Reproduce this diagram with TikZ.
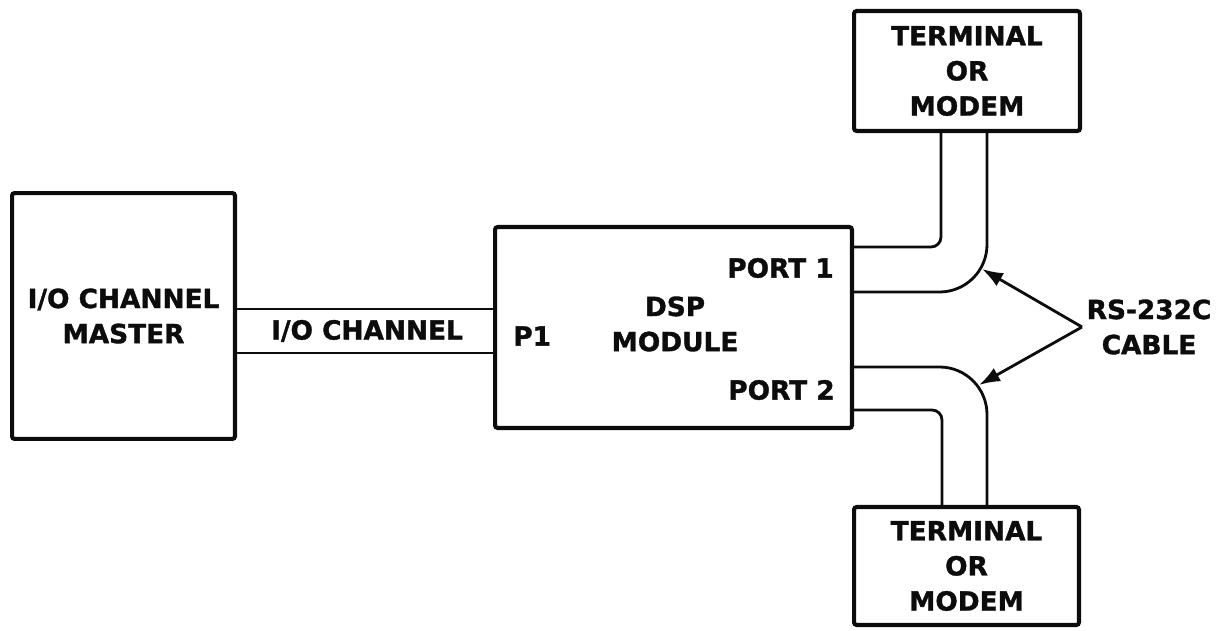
\documentclass[tikz,border=0pt]{standalone}
\usepackage{fontspec}
\setmainfont{DejaVu Sans}[BoldFeatures={FakeBold=1.3}]
\usepackage{tikz}
\usetikzlibrary{arrows.meta, positioning}
\definecolor{inkblack}{RGB}{12, 12, 12}

\begin{document}
\begin{tikzpicture}[x=0.02cm, y=-0.02cm,
    box/.style={draw=inkblack, line width=2.3pt, rounded corners=1.5pt, align=center, inner sep=0pt},
    wire/.style={draw=inkblack, line width=1.6pt},
    lbl/.style={inner sep=0pt, font=\fontsize{15}{20}\selectfont\bfseries, text=inkblack, align=center}]
    \useasboundingbox (0,0) rectangle (1219,631);

    % blocks
    \node[box, lbl, minimum width=4.46cm, minimum height=4.92cm] (master) at (123.5,316) {I/O CHANNEL\\MASTER};
    \node[box, minimum width=7.14cm, minimum height=4.02cm] (dsp) at (673.5,327.5) {};
    \node[box, lbl, minimum width=4.52cm, minimum height=2.4cm] (termA) at (967,71) {TERMINAL\\OR\\MODEM};
    \node[box, lbl, minimum width=4.5cm, minimum height=2.36cm] (termB) at (966.5,566) {TERMINAL\\OR\\MODEM};

    % texts
    \node[lbl] (chlabel) at (367,331) {I/O CHANNEL};
    \node[lbl, anchor=west] (pone) at (513,336) {P1};
    \node[lbl] (dsplabel) at (675,324) {DSP\\MODULE};
    \node[lbl, anchor=east] (portA) at (834,268) {PORT 1};
    \node[lbl, anchor=east] (portB) at (835,390) {PORT 2};
    \node[lbl] (rslabel) at (1149,327) {RS-232C\\CABLE};

    % I/O channel
    \draw[wire] (master.east |- 0,309) -- (dsp.west |- 0,309);
    \draw[wire] (master.east |- 0,353) -- (dsp.west |- 0,353);

    % RS-232C cables
    \draw[wire, rounded corners=0.2cm] (dsp.east |- 0,247) -| (termA.south -| 941,0);
    \draw[wire, rounded corners=0.95cm] (dsp.east |- 0,292) -| (termA.south -| 987,0);
    \draw[wire, rounded corners=0.95cm] (dsp.east |- 0,367) -| (termB.north -| 987,0);
    \draw[wire, rounded corners=0.2cm] (dsp.east |- 0,410) -| (termB.north -| 942,0);

    \coordinate (apex) at (1082,327);
    \coordinate (tipA) at (982,269);
    \coordinate (tipB) at (979,385);
    \draw[wire, -{Latex[length=0.42cm, width=0.3cm]}] (apex) -- (tipA);
    \draw[wire, -{Latex[length=0.42cm, width=0.3cm]}] (apex) -- (tipB);
\end{tikzpicture}
\end{document}
